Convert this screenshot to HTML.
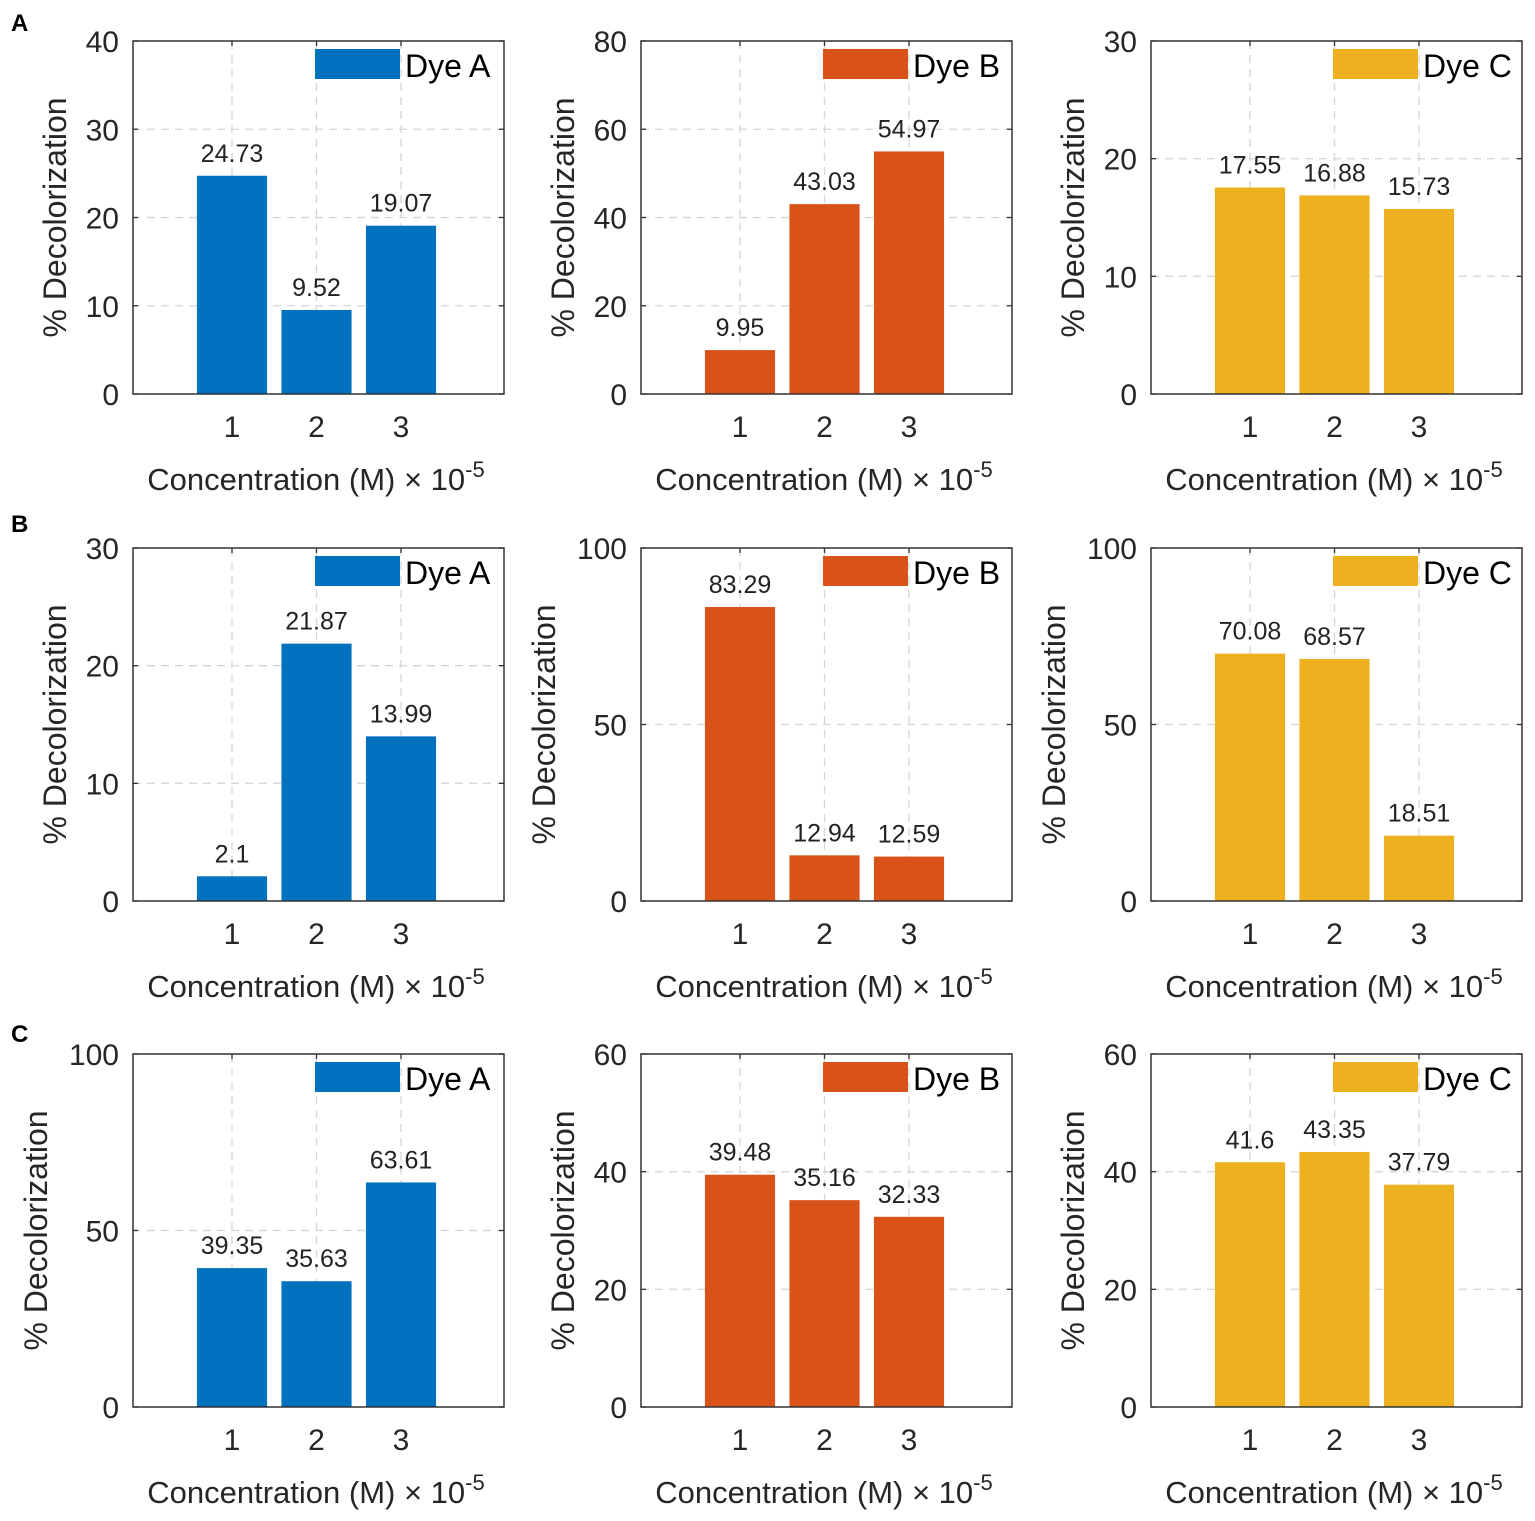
<!DOCTYPE html>
<html><head><meta charset="utf-8"><style>
html,body{margin:0;padding:0;background:#fff;}
svg{display:block;font-family:"Liberation Sans",Arial,sans-serif;}
</style></head><body>
<svg id="fig" width="1535" height="1521" viewBox="0 0 1535 1521" xmlns="http://www.w3.org/2000/svg"></svg>
<script>
const categories = [1, 2, 3];
const dyeNames = ["Dye A", "Dye B", "Dye C"];
const rowLetters = ["A", "B", "C"];
const rowA = [[24.73, 9.52, 19.07], [9.95, 43.03, 54.97], [17.55, 16.88, 15.73]];
const rowB = [[2.1, 21.87, 13.99], [83.29, 12.94, 12.59], [70.08, 68.57, 18.51]];
const rowC = [[39.35, 35.63, 63.61], [39.48, 35.16, 32.33], [41.6, 43.35, 37.79]];
const yMaxA = [40, 80, 30];
const yMaxB = [30, 100, 100];
const yMaxC = [100, 60, 60];
const yStepA = [10, 20, 10];
const yStepB = [10, 50, 50];
const yStepC = [50, 20, 20];

const rows = [rowA, rowB, rowC];
const yMaxes = [yMaxA, yMaxB, yMaxC];
const ySteps = [yStepA, yStepB, yStepC];
const colors = ["#0072BD", "#D95319", "#EDB120"];
const colLeft = [133, 641, 1151];
const rowTop = [41, 548, 1054];
const W = 371, H = 353;
const NS = "http://www.w3.org/2000/svg";
const svg = document.getElementById("fig");
function mk(tag, attrs, parent) {
  const e = document.createElementNS(NS, tag);
  for (const k in attrs) e.setAttribute(k, attrs[k]);
  (parent || svg).appendChild(e);
  return e;
}
const rowLabelY = [22, 523, 1033];
rows.forEach((row, r) => {
  const t = mk("text", {x: 11, y: rowLabelY[r] + 9, "font-size": 24, "font-weight": "bold", fill: "#000"});
  t.textContent = rowLetters[r];
  
  
  row.forEach((vals, c) => {
    const L = colLeft[c], T = rowTop[r], B = T + H;
    const yMax = yMaxes[r][c], step = ySteps[r][c];
    const g = mk("g", {});
    
    
    const xs = v => L + 99 + (v - 1) * 84.5;
    const ys = v => B - v / yMax * H;
    for (let v = 0; v <= yMax + 1e-9; v += step) {
      const y = ys(v);
      if (v > 0 && v < yMax) {
        const gl = mk("line", {x1: L, x2: L + W, y1: y, y2: y, stroke: "#d6d6d6", "stroke-width": 1.3, "stroke-dasharray": "8 6"}, g);
        
        
      }
      mk("line", {x1: L, x2: L + 5, y1: y, y2: y, stroke: "#333", "stroke-width": 1.3}, g);
      mk("line", {x1: L + W - 5, x2: L + W, y1: y, y2: y, stroke: "#333", "stroke-width": 1.3}, g);
      const tl = mk("text", {x: L - 14, y: y + 11, "font-size": 30, "text-anchor": "end", fill: "#262626"}, g);
      tl.textContent = String(v);
      
      
    }
    categories.forEach(cat => {
      const x = xs(cat);
      const gl = mk("line", {x1: x, x2: x, y1: T, y2: B, stroke: "#d6d6d6", "stroke-width": 1.3, "stroke-dasharray": "8 6"}, g);
      
      
      mk("line", {x1: x, x2: x, y1: B - 5, y2: B, stroke: "#333", "stroke-width": 1.3}, g);
      mk("line", {x1: x, x2: x, y1: T, y2: T + 5, stroke: "#333", "stroke-width": 1.3}, g);
      const tl = mk("text", {x: x, y: B + 43, "font-size": 30, "text-anchor": "middle", fill: "#262626"}, g);
      tl.textContent = String(cat);
      
      
    });
    vals.forEach((v, i) => {
      const x = xs(categories[i]), bw = 0.83 * 84.5;
      const bar = mk("rect", {x: x - bw / 2, y: ys(v), width: bw, height: B - ys(v), fill: colors[c]}, g);
      
      
      const lbl = mk("text", {x: x, y: ys(v) - 14, "font-size": 25, "text-anchor": "middle", fill: "#222"}, g);
      lbl.textContent = String(v);
      
      
    });
    const box = mk("rect", {x: L, y: T, width: W, height: H, fill: "none", stroke: "#333", "stroke-width": 1.5}, g);
    
    
    const lg = mk("g", {}, g);
    
    
    mk("rect", {x: L + 182, y: T + 8, width: 85, height: 30, fill: colors[c]}, lg);
    const lt = mk("text", {x: L + 272, y: T + 36, "font-size": 32, fill: "#000"}, lg);
    lt.textContent = dyeNames[c];
    const wide = yMax >= 100;
    const yx = L - (wide ? 86 : 67);
    const yl = mk("text", {x: 0, y: 0, "font-size": 32, "text-anchor": "middle", fill: "#262626", transform: `translate(${yx},${T + H / 2}) rotate(-90)`}, g);
    yl.textContent = "% Decolorization";
    
    
    const xl = mk("text", {x: L + 183, y: B + 96, "font-size": 31, "text-anchor": "middle", fill: "#262626"}, g);
    xl.textContent = "Concentration (M) \u00d7 10";
    const sup = mk("tspan", {"font-size": 22, dy: -13}, xl);
    sup.textContent = "-5";
    
    
  });
});
</script>
</body></html>
